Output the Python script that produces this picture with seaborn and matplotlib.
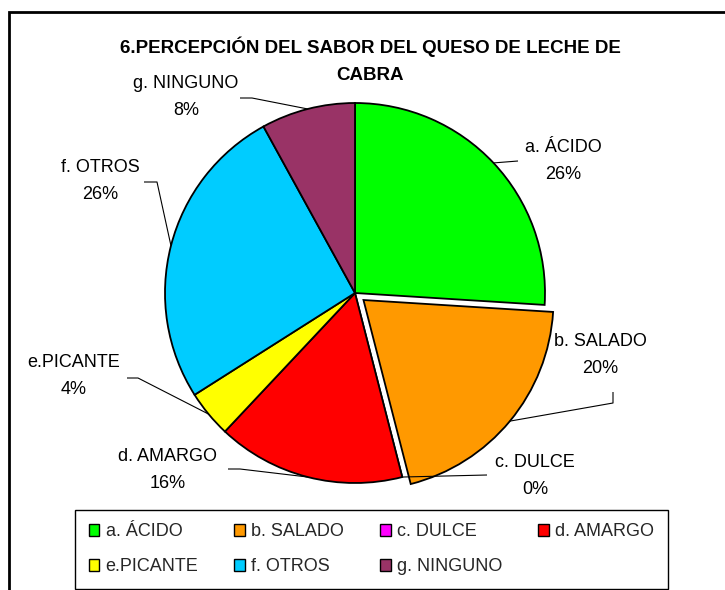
import matplotlib
matplotlib.use('Agg')
import matplotlib.pyplot as plt
import seaborn as sns
import numpy as np
from matplotlib.patches import Patch, Rectangle

# ---- data ----
categories = ['a. ÁCIDO', 'b. SALADO', 'c. DULCE', 'd. AMARGO', 'e.PICANTE', 'f. OTROS', 'g. NINGUNO']
counts = [13, 10, 0, 8, 2, 13, 4]
percent_labels = ['26%', '20%', '0%', '16%', '4%', '26%', '8%']
colors = ['#00FF00', '#FF9900', '#FF00FF', '#FF0000', '#FFFF00', '#00CCFF', '#993366']
title_lines = ['6.PERCEPCIÓN DEL SABOR DEL QUESO DE LECHE DE', 'CABRA']

sns.set_theme(style='white')
plt.rcParams['font.family'] = ['Liberation Sans', 'DejaVu Sans']

W, H = 725, 590
fig = plt.figure(figsize=(W / 100, H / 100), dpi=100)
ax = fig.add_axes([0, 0, 1, 1])


def py(y):
    return H - y


center = (355, py(293))
radius = 190
explode = [0, 11, 0, 0, 0, 0, 0]

wedges, _ = ax.pie(counts, colors=colors, startangle=90, counterclock=False,
                   center=center, radius=radius, explode=explode,
                   wedgeprops=dict(edgecolor='black', linewidth=1.3),
                   frame=True)
ax.set_xlim(0, W)
ax.set_ylim(0, H)
ax.set_aspect('equal')
ax.axis('off')

# label layout (pixel positions of text blocks and leader elbows)
label_pos = [(563, 161), (600, 355), (535, 476), (168, 470), (74, 376), (100, 181), (186, 97)]
leader_pts = [
    [(518, 161)],
    [(613, 392), (613, 403)],
    [(487, 475)],
    [(228, 469), (240, 469)],
    [(127, 378), (138, 378)],
    [(144, 182), (157, 182)],
    [(240, 98), (252, 98)],
]

for w, cat, pct, (lx, ly), pts in zip(wedges, categories, percent_labels, label_pos, leader_pts):
    th = np.deg2rad((w.theta1 + w.theta2) / 2)
    cx, cy = w.center
    rim = (cx + w.r * np.cos(th), cy + w.r * np.sin(th))
    xs = [p[0] for p in pts] + [rim[0]]
    ys = [py(p[1]) for p in pts] + [rim[1]]
    ax.plot(xs, ys, color='black', lw=0.8, solid_capstyle='butt')
    ax.text(lx, py(ly), f'{cat}\n{pct}', ha='center', va='center',
            fontsize=13, linespacing=1.7, color='black')

for line, yy in zip(title_lines, [47, 76]):
    fig.text(370 / W, 1 - yy / H, line, ha='center', va='center', fontsize=13.5,
             fontweight='bold', color='black')

# legend filled row by row like the reference
order = [0, 4, 1, 5, 2, 6, 3]
handles = [Patch(facecolor=colors[i], edgecolor='black', linewidth=1, label=categories[i])
           for i in order]
leg = fig.legend(handles=handles, ncol=4, loc='lower left',
                 bbox_to_anchor=(75 / W, 1 / H, 593 / W, 81 / H), mode='expand',
                 borderaxespad=0, fontsize=13, handlelength=0.6, handleheight=0.6,
                 handletextpad=0.35, columnspacing=0.6, labelspacing=1.0,
                 borderpad=0.75, fancybox=False, framealpha=1, edgecolor='black')
leg.get_frame().set_linewidth(1)

fig.patches.append(Rectangle((9 / W, -0.05), 1.1, 1.05 - 12 / H, transform=fig.transFigure,
                             fill=False, edgecolor='black', linewidth=2))

fig.savefig('out.png', dpi=100)
